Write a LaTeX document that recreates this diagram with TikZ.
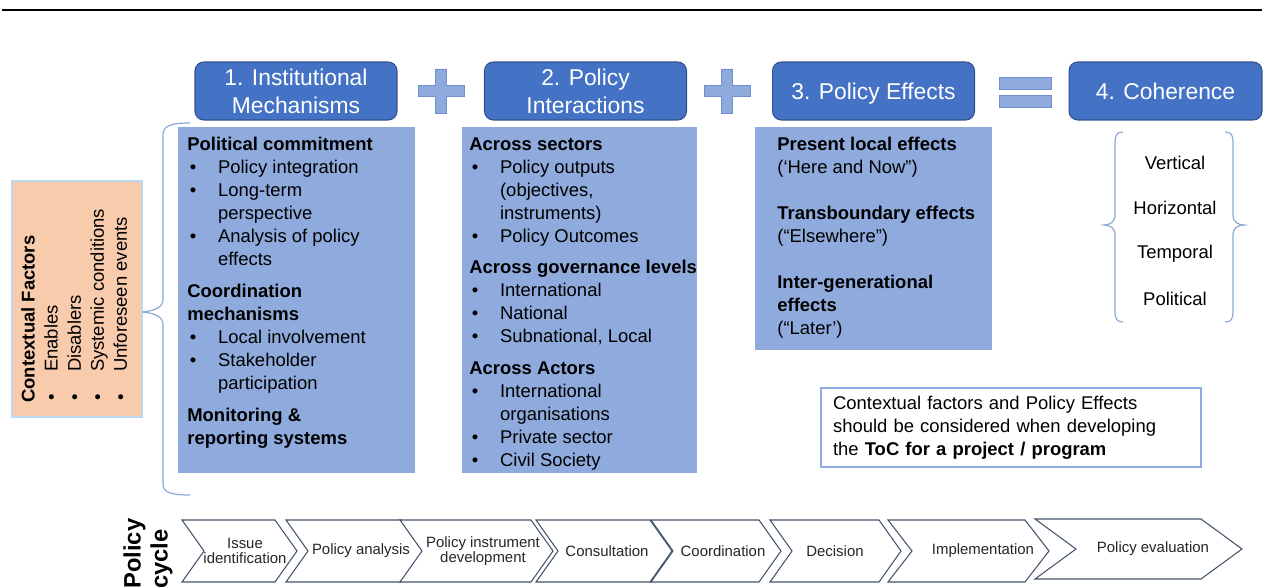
\documentclass[tikz,border=0pt]{standalone}
\usepackage{fontspec}
\setmainfont{Liberation Sans}

\definecolor{hdrblue}{HTML}{4472C4}
\definecolor{hdrline}{HTML}{2F528F}
\definecolor{panelblue}{HTML}{8FAADC}
\definecolor{signline}{HTML}{6F8FCF}
\definecolor{bracecol}{HTML}{8EA9DB}
\definecolor{peach}{HTML}{F8CBAD}
\definecolor{peachline}{HTML}{BDD7EE}
\definecolor{chevline}{HTML}{44546A}

% 箇条書き
\newcommand{\bitem}[1]{\hspace*{1.5pt}\makebox[16pt][l]{\textbullet}#1}
\newcommand{\bcont}[1]{\hspace*{17.5pt}#1}

\begin{document}
\begin{tikzpicture}[x=0.02cm,y=-0.02cm,
    hdr/.style={rounded corners=5pt, fill=hdrblue, draw=hdrline, line width=0.6pt,
      text=white, minimum width=4.04cm, minimum height=1.16cm, align=center,
      inner sep=0pt, font=\fontsize{13}{16}\selectfont},
    body/.style={anchor=north west, align=left, inner sep=0pt,
      font=\fontsize{10.5}{13.1}\selectfont},
    chev/.style={draw=chevline, line width=0.6pt, fill=white},
    chevtext/.style={align=center, inner sep=0pt, text=black!85,
      font=\fontsize{8.5}{8.5}\selectfont}]
  \useasboundingbox (0,0) rectangle (1268,587);

  % 上の罫線
  \draw[line width=1.4pt] (2,10) -- (1262,10);

  % 見出し
  \node[hdr] (inst) at (296,91) {1. Institutional\\Mechanisms};
  \node[hdr] (inter) at (585.5,91) {2. Policy\\Interactions};
  \node[hdr, text depth=0pt] (eff) at (873.5,91) {3. Policy Effects};
  \node[hdr, text depth=0pt, minimum width=3.86cm] (coh) at (1165.5,91) {4. Coherence};

  % + と =
  \foreach \cx in {441,727}
    \draw[fill=panelblue, draw=signline, line width=0.5pt]
      ({\cx-5.5},69) -- ({\cx+5.5},69) -- ({\cx+5.5},85.5) -- ({\cx+23},85.5)
      -- ({\cx+23},96.5) -- ({\cx+5.5},96.5) -- ({\cx+5.5},113) -- ({\cx-5.5},113)
      -- ({\cx-5.5},96.5) -- ({\cx-23},96.5) -- ({\cx-23},85.5) -- ({\cx-5.5},85.5) -- cycle;
  \draw[fill=panelblue, draw=signline, line width=0.5pt] (999,77) rectangle (1051,89);
  \draw[fill=panelblue, draw=signline, line width=0.5pt] (999,95) rectangle (1051,107);

  % 青いパネル
  \fill[panelblue] (178,127) rectangle (415,473);
  \fill[panelblue] (462,127) rectangle (697,473);
  \fill[panelblue] (755,127) rectangle (992,350);

  \node[body] (mech) at (187,137) {\textbf{Political commitment}\\
    \bitem{Policy integration}\\
    \bitem{Long-term}\\
    \bcont{perspective}\\
    \bitem{Analysis of policy}\\
    \bcont{effects}\\[5pt]
    \textbf{Coordination}\\
    \textbf{mechanisms}\\
    \bitem{Local involvement}\\
    \bitem{Stakeholder}\\
    \bcont{participation}\\[5pt]
    \textbf{Monitoring \&}\\
    \textbf{reporting systems}};

  \node[body] (acts) at (469,137) {\textbf{Across sectors}\\
    \bitem{Policy outputs}\\
    \bcont{(objectives,}\\
    \bcont{instruments)}\\
    \bitem{Policy Outcomes}\\[5pt]
    \textbf{Across governance levels}\\
    \bitem{International}\\
    \bitem{National}\\
    \bitem{Subnational, Local}\\[5pt]
    \textbf{Across Actors}\\
    \bitem{International}\\
    \bcont{organisations}\\
    \bitem{Private sector}\\
    \bitem{Civil Society}};

  \node[body] (effs) at (777,137) {\textbf{Present local effects}\\
    (‘Here and Now”)\\[13.1pt]
    \textbf{Transboundary effects}\\
    (“Elsewhere”)\\[13.1pt]
    \textbf{Inter-generational}\\
    \textbf{effects}\\
    (“Later’)};

  % 左の括弧と要因
  \draw[bracecol, line width=0.7pt] (190,123) .. controls (170,123) and (163,126) .. (163,135)
    -- (163,300) .. controls (163,308) and (152,312) .. (138,312)
    .. controls (152,312) and (163,316) .. (163,324)
    -- (163,484) .. controls (163,492) and (170,495) .. (190,495);

  \draw[fill=peach, draw=peachline, line width=0.7pt] (12,181) rectangle (142,417);
  \node[body, rotate=90] (ctx) at (21,403) {\textbf{Contextual Factors}\\
    \bitem{Enables}\\
    \bitem{Disablers}\\
    \bitem{Systemic conditions}\\
    \bitem{Unforeseen events}};

  % 整合性の四つ
  \foreach \w/\yy [count=\i] in {Vertical/163,Horizontal/208,Temporal/254,Political/299}
    \node[font=\fontsize{10.5}{13.1}\selectfont] (dim\i) at (1175,\yy) {\w};
  \draw[bracecol, line width=0.7pt] (1123,132) .. controls (1117,132) and (1115,135) .. (1115,142)
    -- (1115,215) .. controls (1115,222) and (1110,225) .. (1104,225)
    .. controls (1110,225) and (1115,228) .. (1115,235)
    -- (1115,312) .. controls (1115,319) and (1117,322) .. (1123,322);
  \draw[bracecol, line width=0.7pt] (1225,132) .. controls (1231,132) and (1233,135) .. (1233,142)
    -- (1233,215) .. controls (1233,222) and (1238,225) .. (1244,225)
    .. controls (1238,225) and (1233,228) .. (1233,235)
    -- (1233,312) .. controls (1233,319) and (1231,322) .. (1225,322);

  % 注記
  \node[draw=panelblue, line width=0.9pt, minimum width=7.6cm, minimum height=1.58cm,
    text width=7.12cm, inner xsep=6.8pt, align=left,
    font=\fontsize{10.5}{13.1}\selectfont] (note) at (1011,427.5)
    {Contextual factors and Policy Effects\\
     should be considered when developing\\
     the \textbf{ToC for a project / program}};

  % 政策サイクル
  \node[rotate=90, anchor=north west, align=left, inner sep=0pt,
    font=\bfseries\fontsize{13.5}{15.4}\selectfont] (cyc) at (123,589) {Policy\\cycle};
  \foreach \l/\r/\d/\t/\b/\tx/\txt [count=\i] in {
      182/297/22/520/582/245/{Issue\\identification},
      286/423/22/520/582/361/{Policy analysis},
      400/553/22/520/582/483/{Policy instrument\\development},
      536/672/22/520/582/607/Consultation,
      651/781/22/520/582/723/Coordination,
      770/901/22/520/582/835/Decision,
      888/1049/24/520/582/983/Implementation,
      1035/1242/41/519/579/1153/{Policy evaluation}} {
    \draw[chev] (\l,\t) -- ({\r-\d},\t) -- (\r,{(\t+\b)/2}) -- ({\r-\d},\b)
      -- (\l,\b) -- ({\l+\d},{(\t+\b)/2}) -- cycle;
    \node[chevtext] (stage\i) at (\tx,{(\t+\b)/2}) {\txt};
  }
\end{tikzpicture}
\end{document}
